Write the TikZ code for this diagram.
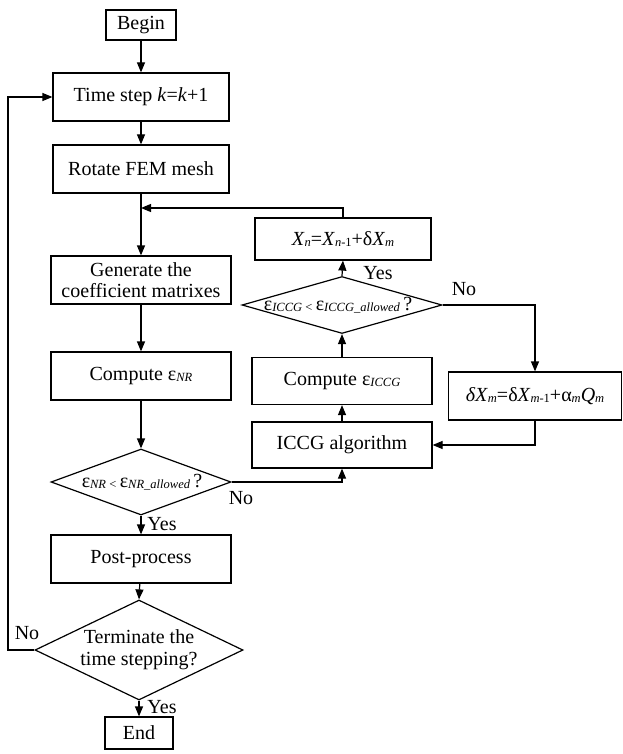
\documentclass[tikz,border=0pt]{standalone}
\usepackage{fontspec}
\setmainfont{Liberation Serif}
\usetikzlibrary{arrows.meta,shapes.geometric}

% subscript-style italic index set on the baseline, as in the flowchart labels
\newcommand{\idx}[1]{\raisebox{-0.12ex}{\fontsize{12.5}{13}\selectfont\itshape #1}}
\newcommand{\idxup}[1]{\raisebox{-0.12ex}{\fontsize{12.5}{13}\selectfont #1}}

\begin{document}
\begin{tikzpicture}[x=1pt,y=-1pt,
  every node/.style={font=\fontsize{20}{24}\selectfont},
  box/.style={draw,line width=1.2pt,inner sep=0pt,align=center},
  dia/.style={draw,line width=1.2pt,diamond,inner sep=0pt},
  arr/.style={line width=1.2pt,-{Triangle[length=10pt,width=8pt]}},
  lbl/.style={inner sep=0pt}]
\useasboundingbox (0,0) rectangle (622,754);

% main column
\node[box,minimum width=70pt,minimum height=30pt] (begin) at (141,25) {Begin};
\node[box,minimum width=176pt,minimum height=48pt] (tstep) at (141,97) {Time step \textit{k}=\textit{k}+1};
\node[box,minimum width=176pt,minimum height=48pt] (rot) at (141,169) {Rotate FEM mesh};
\node[box,minimum width=180pt,minimum height=48pt] (gen) at (141,280) {Generate the\\[-3pt]coefficient matrixes};
\node[box,minimum width=180pt,minimum height=48pt] (cnr) at (141,376) {Compute ε\idx{NR}};
\node[dia,minimum width=180pt,minimum height=66pt] (dnr) at (141,482) {};
\node[lbl] (dnrt) at (142,482) {ε\idx{NR}\,\idxup{<}\,ε\idx{NR\_allowed}\,?};
\node[box,minimum width=180pt,minimum height=48pt] (post) at (141,559) {Post-process};
\node[dia,minimum width=208pt,minimum height=100pt] (dterm) at (139,650) {};
\node[lbl,align=center] (dtermt) at (139,650) {Terminate the\\[-2pt]time stepping?};
\node[box,minimum width=68pt,minimum height=32pt] (end) at (139,733) {End};

% ICCG column
\node[box,minimum width=176pt,minimum height=42pt] (xn) at (343,239) {\textit{X}\idx{n}=\textit{X}\idx{n}\idxup{-1}+δ\textit{X}\idx{m}};
\node[dia,minimum width=200pt,minimum height=57pt] (diccg) at (342,305) {};
\node[lbl] (diccgt) at (338,305) {ε\idx{ICCG}\,\idxup{<}\,ε\idx{ICCG\_allowed}\,?};
\node[box,minimum width=180pt,minimum height=47pt] (ciccg) at (342,381) {Compute ε\idx{ICCG}};
\node[box,minimum width=180pt,minimum height=46pt] (iccg) at (342,445) {ICCG algorithm};
\node[box,minimum width=173pt,minimum height=48pt] (dx) at (535,396) {\textit{δX}\idx{m}=δ\textit{X}\idx{m}\idxup{-1}+α\idx{m}\textit{Q}\idx{m}};

\coordinate (join) at (141,208);
\coordinate (back) at (8,650);

% connectors
\draw[arr] (begin) -- (tstep);
\draw[arr] (tstep) -- (rot);
\draw[arr] (rot) -- (gen);
\draw[arr] (xn.north) -- (xn.north |- join) -- (join);
\draw[arr] (gen) -- (cnr);
\draw[arr] (cnr) -- (dnr.north);
\draw[arr] (dnr.east) -| (iccg.south);
\draw[arr] (dnr.south) -- (post.north);
\draw[arr] (post) -- (dterm.north);
\draw[arr] (dterm.south) -- (end.north);
\draw[arr] (dterm.west) -- (back) |- (tstep.west);
\draw[arr] (iccg) -- (ciccg);
\draw[arr] (ciccg) -- (diccg.south);
\draw[arr] (diccg.north) -- (xn.south);
\draw[arr] (diccg.east) -| (dx.north);
\draw[arr] (dx.south) |- (iccg.east);

% branch labels
\node[lbl] (nnr) at (241,498) {No};
\node[lbl] (ynr) at (162,524) {Yes};
\node[lbl] (yterm) at (162,707) {Yes};
\node[lbl] (nterm) at (27,633) {No};
\node[lbl] (yiccg) at (378,273) {Yes};
\node[lbl] (niccg) at (464,289) {No};
\end{tikzpicture}
\end{document}
